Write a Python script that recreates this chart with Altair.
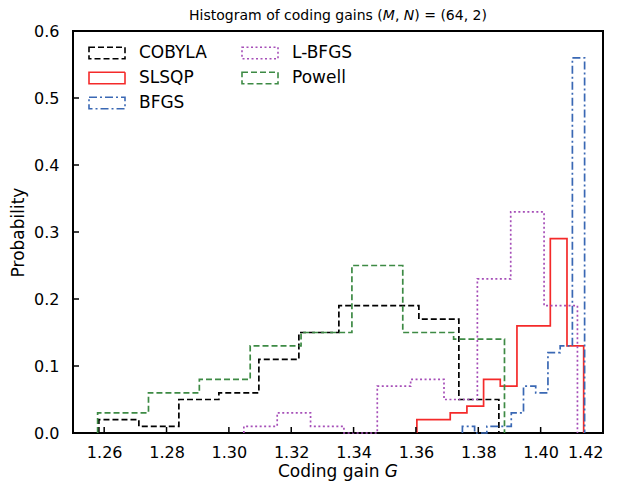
import altair as alt
import numpy as np
import pandas as pd

# ---- data ----
legend_order = ["COBYLA", "SLSQP", "BFGS", "L-BFGS", "Powell"]

cobyla_range = (1.2583, 1.3866)
cobyla_vals = [0.02, 0.01, 0.05, 0.06, 0.11, 0.15, 0.19, 0.19, 0.17, 0.05]

slsqp_range = (1.3603, 1.4138)
slsqp_vals = [0.02, 0.02, 0.03, 0.04, 0.08, 0.07, 0.16, 0.16, 0.29, 0.13]

bfgs_range = (1.3749, 1.4141)
bfgs_vals = [0.01, 0.0, 0.01, 0.01, 0.03, 0.07, 0.06, 0.12, 0.13, 0.56]

lbfgs_range = (1.3048, 1.4118)
lbfgs_vals = [0.01, 0.03, 0.01, 0.0, 0.07, 0.08, 0.05, 0.23, 0.33, 0.19]

powell_range = (1.2579, 1.3884)
powell_vals = [0.03, 0.06, 0.08, 0.13, 0.15, 0.25, 0.15, 0.14]

x_ticks = [1.26, 1.28, 1.30, 1.32, 1.34, 1.36, 1.38, 1.40, 1.42]
y_ticks = [0.0, 0.1, 0.2, 0.3, 0.4, 0.5, 0.6]

colors = ["#000000", "#f42a2a", "#3a68b4", "#a64fb8", "#3d8a44"]
dashes = [[6, 3], [1, 0], [8, 3, 2, 3], [2, 2.5], [6, 3]]

title_parts = [("Histogram of coding gains (", "normal"), ("M", "italic"), (", ", "normal"),
               ("N", "italic"), (") = (64, 2)", "normal")]
xtitle_parts = [("Coding gain ", "normal"), ("G", "italic")]

FONT = "DejaVu Sans"
# approximate DejaVu Sans advance widths (em)
ADV = {'H': .752, 'i': .278, 's': .521, 't': .392, 'o': .612, 'g': .635, 'r': .411, 'a': .613,
       'm': .974, ' ': .318, 'f': .352, 'c': .550, 'd': .635, 'n': .634, '(': .390, ')': .390,
       ',': .318, '=': .838, '6': .636, '4': .636, '2': .636, 'M': .863, 'N': .748, 'C': .698,
       'G': .775}


def text_width(s, size):
    return sum(ADV.get(ch, 0.6) for ch in s) * size


# ---- build step-outline table ----
rows = []
for name, rng, vals in [
    ("COBYLA", cobyla_range, cobyla_vals),
    ("SLSQP", slsqp_range, slsqp_vals),
    ("BFGS", bfgs_range, bfgs_vals),
    ("L-BFGS", lbfgs_range, lbfgs_vals),
    ("Powell", powell_range, powell_vals),
]:
    edges = np.linspace(rng[0], rng[1], len(vals) + 1)
    idx = 0
    rows.append({"s": name, "x": edges[0], "y": 0.0, "i": idx}); idx += 1
    for k, v in enumerate(vals):
        rows.append({"s": name, "x": edges[k], "y": v, "i": idx}); idx += 1
    rows.append({"s": name, "x": edges[-1], "y": vals[-1], "i": idx}); idx += 1
    rows.append({"s": name, "x": edges[-1], "y": 0.0, "i": idx})
df = pd.DataFrame(rows)

W, H = 530, 402
xscale = alt.Scale(domain=[1.25, 1.42], nice=False, zero=False)
yscale = alt.Scale(domain=[0, 0.6], nice=False)

sym = "M-1.5,-0.48H1.5V0.48H-1.5Z"

lines = alt.Chart(df).mark_line(interpolate="step-after", strokeWidth=1.7).encode(
    x=alt.X("x:Q", scale=xscale,
            axis=alt.Axis(values=x_ticks, format=".2f", title=None,
                          tickSize=0, labelPadding=11, domain=False, grid=False)),
    y=alt.Y("y:Q", scale=yscale,
            axis=alt.Axis(values=y_ticks, format=".1f", title="Probability",
                          tickSize=0, labelPadding=14, domain=False, grid=False,
                          titlePadding=6)),
    color=alt.Color("s:N", scale=alt.Scale(domain=legend_order, range=colors),
                    legend=alt.Legend(title=None, orient="none", legendX=21, legendY=9,
                                      columns=2, columnPadding=31, rowPadding=3,
                                      symbolType=sym, symbolSize=576,
                                      symbolStrokeWidth=1.6, symbolFillColor="transparent",
                                      labelFontSize=17, labelOffset=19,
                                      labelFont=FONT, labelColor="black")),
    strokeDash=alt.StrokeDash("s:N", scale=alt.Scale(domain=legend_order, range=dashes)),
    order="i:Q",
)

xt = alt.Chart(pd.DataFrame({"t": x_ticks})).mark_rule(color="black", strokeWidth=1.5).encode(
    x=alt.X("t:Q", scale=xscale), y=alt.value(H), y2=alt.value(H - 6))
yt = alt.Chart(pd.DataFrame({"t": y_ticks})).mark_rule(color="black", strokeWidth=1.5).encode(
    y=alt.Y("t:Q", scale=yscale), x=alt.value(0), x2=alt.value(6))

one = pd.DataFrame({"a": [0]})


def text_run(parts, size, center_x, baseline_y):
    total = sum(text_width(s, size) for s, _ in parts)
    x0 = center_x - total / 2
    layers = []
    for s, style in parts:
        layers.append(alt.Chart(one).mark_text(
            text=s, font=FONT, fontSize=size, fontStyle=style, align="left",
            baseline="alphabetic", color="black").encode(
            x=alt.value(x0), y=alt.value(baseline_y)))
        x0 += text_width(s, size)
    return layers


title_layers = text_run(title_parts, 14, W / 2, -11)
xtitle_layers = text_run(xtitle_parts, 17, W / 2, 446)

chart = alt.layer(lines, xt, yt, *title_layers, *xtitle_layers).properties(
    width=W, height=H,
    autosize=alt.AutoSizeParams(type="none"),
    padding={"left": 65, "top": 23, "right": 11, "bottom": 50},
).configure_view(stroke="black", strokeWidth=2).configure_axis(
    labelFont=FONT, titleFont=FONT, labelFontSize=16, titleFontSize=17,
    titleFontWeight="normal", labelColor="black", titleColor="black"
)

chart.save("out.html", embed_options={"renderer": "svg", "actions": False})
